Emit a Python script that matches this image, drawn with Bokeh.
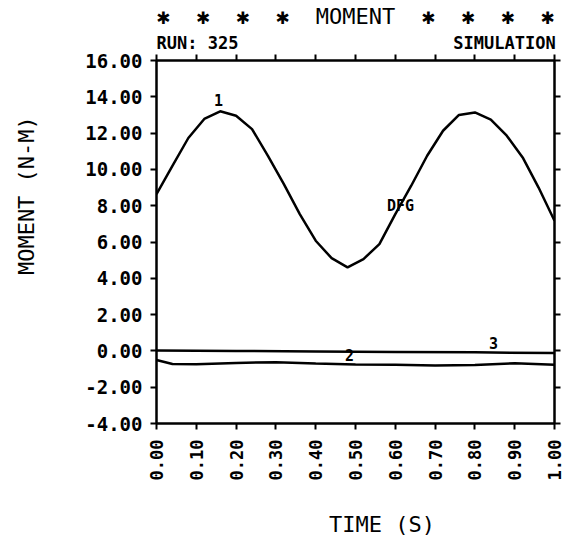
import math
from bokeh.plotting import figure
from bokeh.models import Range1d, LinearAxis, Label, FixedTicker, Title
from bokeh.embed import file_html
from bokeh.resources import INLINE

# ---- data ----
time_1 = [0.00, 0.04, 0.08, 0.12, 0.16, 0.20, 0.24, 0.28, 0.32, 0.36, 0.40, 0.44, 0.48,
          0.52, 0.56, 0.60, 0.64, 0.68, 0.72, 0.76, 0.80, 0.84, 0.88, 0.92, 0.96, 1.00]
moment_1 = [8.64, 10.2, 11.73, 12.78, 13.2, 12.96, 12.22, 10.75, 9.19, 7.54, 6.07, 5.11, 4.6,
            5.06, 5.88, 7.54, 9.1, 10.75, 12.13, 13.0, 13.14, 12.74, 11.86, 10.66, 9.0, 7.17]

time_2 = [0.00, 0.04, 0.10, 0.20, 0.30, 0.40, 0.50, 0.60, 0.70, 0.80, 0.90, 1.00]
moment_2 = [-0.5, -0.72, -0.73, -0.66, -0.62, -0.70, -0.75, -0.76, -0.80, -0.78, -0.68, -0.76]

time_3 = [0.00, 0.20, 0.40, 0.60, 0.80, 1.00]
moment_3 = [0.02, 0.0, -0.03, -0.06, -0.08, -0.12]

x_ticks = [0.0, 0.1, 0.2, 0.3, 0.4, 0.5, 0.6, 0.7, 0.8, 0.9, 1.0]
x_tick_labels = ["0.00", "0.10", "0.20", "0.30", "0.40", "0.50", "0.60", "0.70", "0.80", "0.90", "1.00"]
y_ticks = [-4, -2, 0, 2, 4, 6, 8, 10, 12, 14, 16]
y_tick_labels = ["-4.00", "-2.00", "0.00", "2.00", "4.00", "6.00", "8.00", "10.00", "12.00", "14.00", "16.00"]

curve_labels = ["1", "2", "3", "DFG"]
curve_label_x = [0.156, 0.485, 0.847, 0.613]
curve_label_y = [13.8, -0.2, 0.45, 7.96]

NB = "\u00a0"
STAR = "\u2731"
title_text = (STAR + NB * 2) * 3 + STAR + NB * 2 + "MOMENT" + NB * 2 + (STAR + NB * 2) * 3 + STAR
subtitle_text = "RUN: 325" + NB * 21 + "SIMULATION"
x_title = NB * 4 + "TIME (S)"
y_title = NB * 7 + "MOMENT (N-M)"

FONT = "DejaVu Sans Mono"

p = figure(width=575, height=540, x_range=Range1d(0, 1), y_range=Range1d(-4, 16),
           output_backend="svg", toolbar_location=None, title_location=None,
           x_axis_location=None, y_axis_location=None,
           min_border_left=156, min_border_right=21, min_border_top=60, min_border_bottom=117)
p.grid.visible = False
p.outline_line_color = "black"
p.outline_line_width = 2
p.background_fill_color = "white"
p.border_fill_color = "white"


def make_axis(ticks, labels, label_size, orientation="horizontal", standoff=8):
    ax = LinearAxis(ticker=FixedTicker(ticks=ticks, minor_ticks=[]))
    ax.major_label_overrides = {t: l for t, l in zip(ticks, labels)}
    ax.axis_line_width = 2
    ax.major_tick_line_width = 2
    ax.major_tick_out = 6
    ax.major_tick_in = 0
    ax.minor_tick_out = 0
    ax.minor_tick_in = 0
    ax.major_label_text_font = FONT
    ax.major_label_text_font_style = "bold"
    ax.major_label_text_color = "black"
    ax.major_label_text_font_size = label_size
    ax.major_label_standoff = standoff
    ax.major_label_orientation = orientation
    return ax


left_axis = make_axis(y_ticks, y_tick_labels, "19px", standoff=8)
left_axis.axis_label = y_title
left_axis.axis_label_text_font = FONT
left_axis.axis_label_text_font_style = "normal"
left_axis.axis_label_text_font_size = "22px"
left_axis.axis_label_text_color = "black"
left_axis.axis_label_standoff = 43
p.add_layout(left_axis, "left")
p.add_layout(make_axis(y_ticks, [""] * len(y_ticks), "0px", standoff=0), "right")

bottom_axis = make_axis(x_ticks, x_tick_labels, "17px", orientation=math.pi / 2, standoff=10)
bottom_axis.axis_label = x_title
bottom_axis.axis_label_text_font = FONT
bottom_axis.axis_label_text_font_style = "normal"
bottom_axis.axis_label_text_font_size = "22px"
bottom_axis.axis_label_text_color = "black"
bottom_axis.axis_label_standoff = 29
p.add_layout(bottom_axis, "below")
p.add_layout(make_axis(x_ticks, [""] * len(x_ticks), "0px", standoff=0), "above")

p.line(time_1, moment_1, line_color="black", line_width=2.5)
p.line(time_2, moment_2, line_color="black", line_width=2.5)
p.line(time_3, moment_3, line_color="black", line_width=2.5)

for txt, lx, ly in zip(curve_labels, curve_label_x, curve_label_y):
    p.add_layout(Label(x=lx, y=ly, text=txt, text_font=FONT, text_font_style="bold",
                       text_color="black", text_font_size="15px",
                       text_align="center", text_baseline="middle"))

# titles: first added sits closest to the frame
p.add_layout(Title(text=subtitle_text, align="left", text_font=FONT, text_font_style="bold",
                   text_font_size="17px", text_color="black", standoff=4, offset=0), "above")
p.add_layout(Title(text=title_text, align="center", text_font=FONT, text_font_style="normal",
                   text_font_size="22px", text_color="black", standoff=0), "above")

open("out.html", "w").write(file_html(p, INLINE))
